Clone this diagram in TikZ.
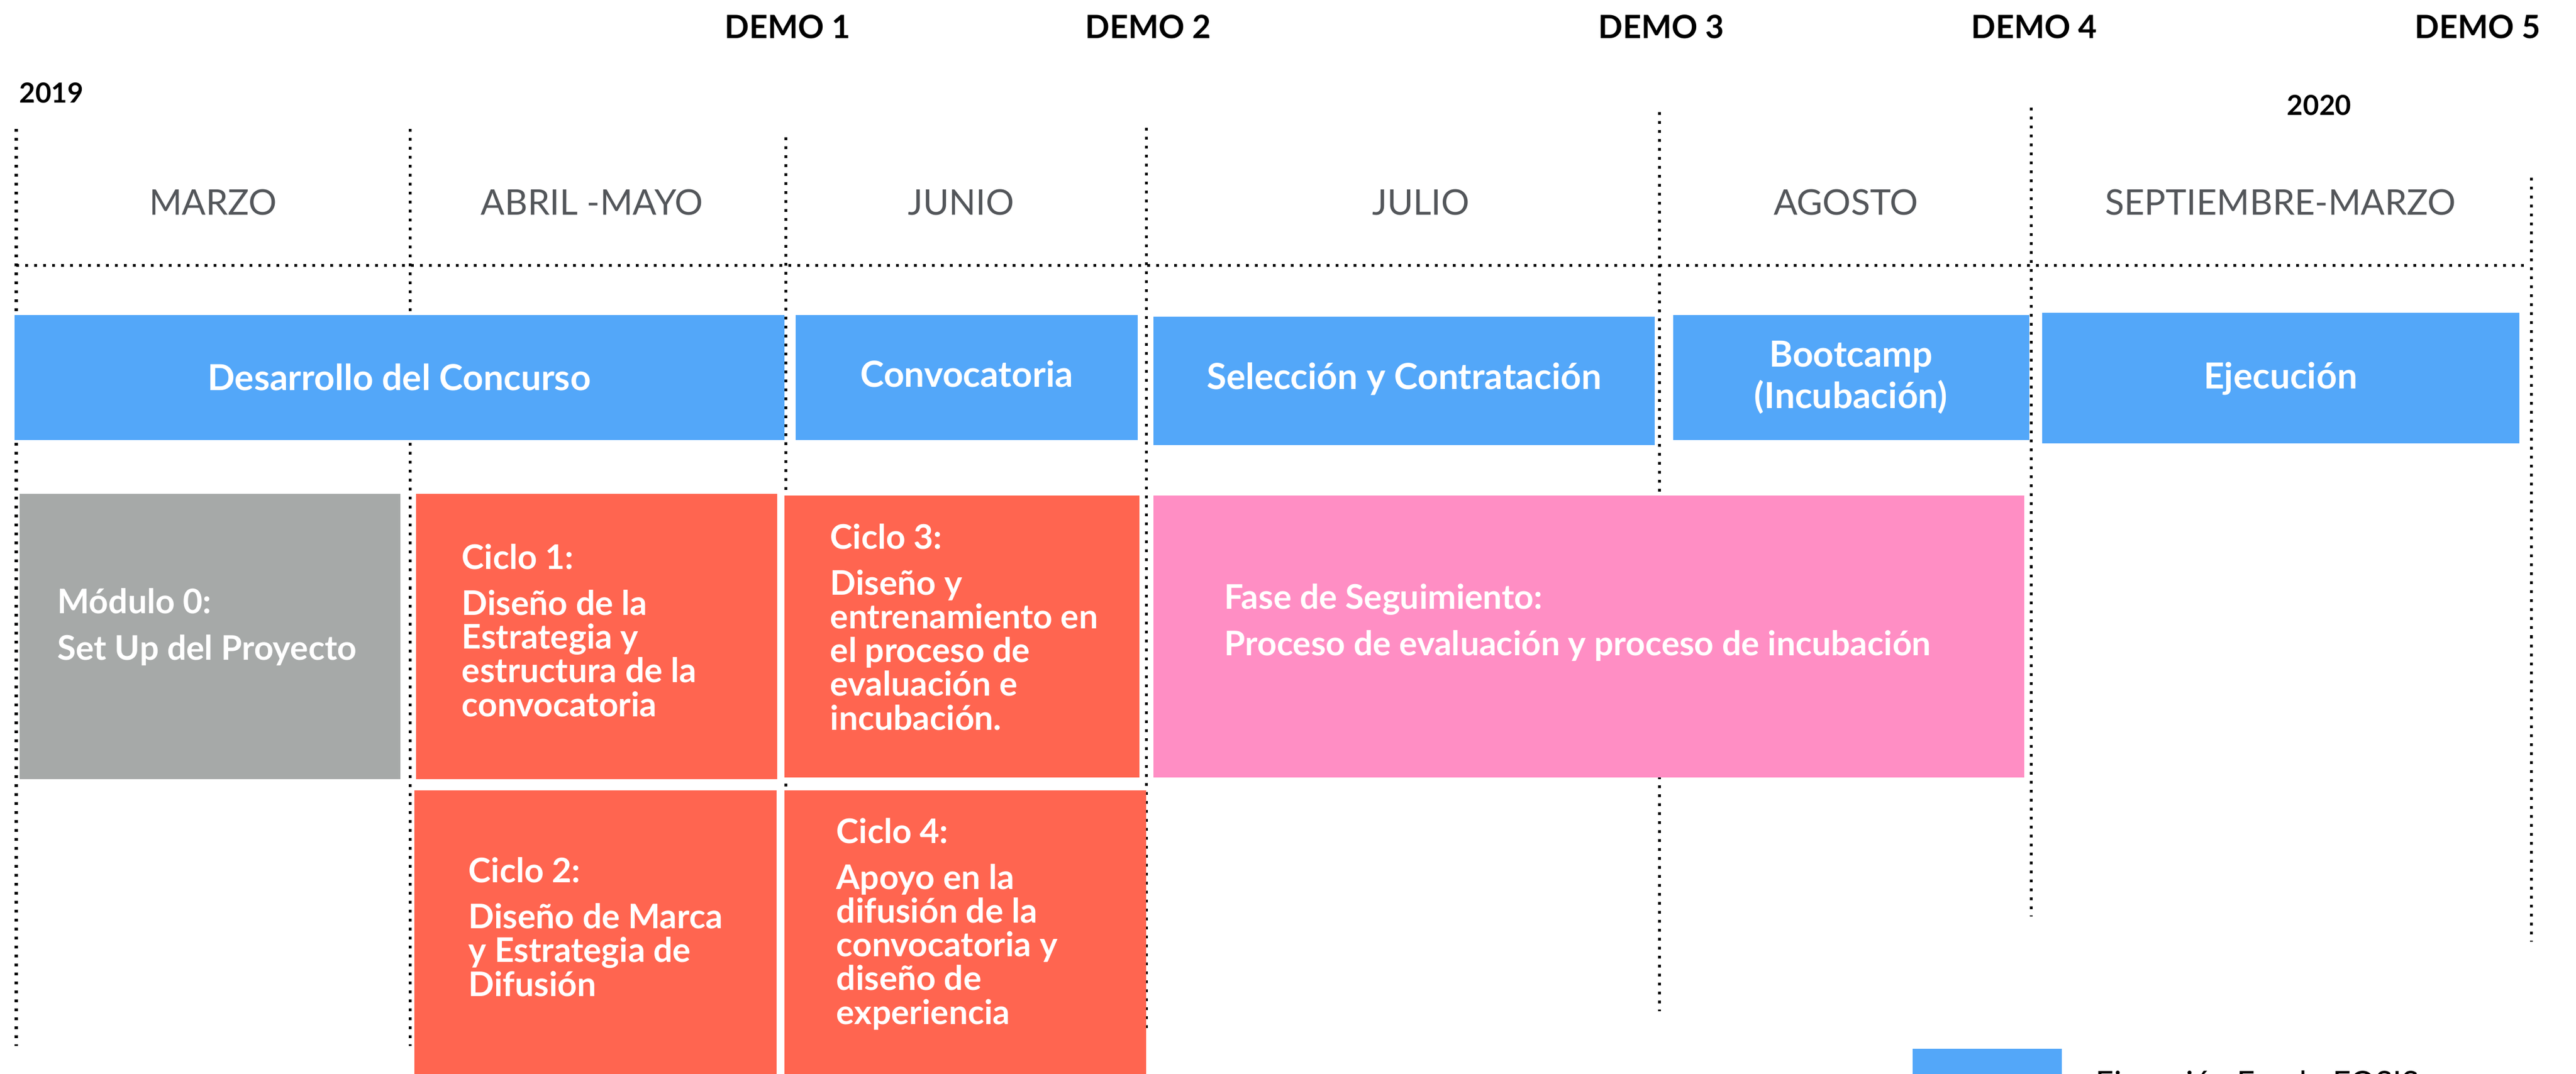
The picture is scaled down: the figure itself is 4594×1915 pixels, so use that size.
\documentclass[tikz,border=0pt]{standalone}
\usepackage{fontspec}
\setmainfont{Lato}
\usepackage{xcolor}
\usepackage{tikz}
\definecolor{barblue}{HTML}{53A7F9}
\definecolor{coral}{HTML}{FF6550}
\definecolor{rosa}{HTML}{FF8EC4}
\definecolor{gris}{HTML}{A6A9A8}
\definecolor{mesgris}{HTML}{53565A}
\tikzset{
  sep/.style={line width=0.05cm, dash pattern=on 0.05cm off 0.11cm},
  mes/.style={color=mesgris, font=\fontsize{17.9}{20}\selectfont, anchor=base},
  demo/.style={font=\bfseries\fontsize{16.3}{20}\selectfont, anchor=base},
  anio/.style={font=\bfseries\fontsize{14}{16}\selectfont, anchor=base},
  bartext/.style={color=white, font=\bfseries\fontsize{18.2}{21}\selectfont, align=center},
  cuerpo/.style={color=white, font=\bfseries\fontsize{17.2}{17.07}\selectfont, align=left, anchor=base west, inner sep=0pt},
  leyenda/.style={font=\fontsize{16}{18}\selectfont, anchor=base west, inner sep=0pt}
}

\begin{document}
\begin{tikzpicture}[x=0.01cm,y=-0.01cm]
\useasboundingbox (0,0) rectangle (4594,1915);
\clip (0,0) rectangle (4594,1915);
% separadores
\draw [sep] (29,473) -- (4505,473);
\draw [sep] (29,230) -- (29,1866);
\draw [sep] (731,230) -- (731,1866);
\draw [sep] (1401,245) -- (1401,1866);
\draw [sep] (2044,228) -- (2044,1835);
\draw [sep] (2959,200) -- (2959,1804);
\draw [sep] (3622,192) -- (3622,1635);
\draw [sep] (4514,317) -- (4514,1680);
% fases
\fill [barblue] (26,562) rectangle (1399,785);
\fill [barblue] (1419,562) rectangle (2029,785);
\fill [barblue] (2057,565) rectangle (2951,794);
\fill [barblue] (2984,562) rectangle (3619,785);
\fill [barblue] (3642,558) rectangle (4493,791);
% modulos y ciclos
\fill [gris] (35,881) rectangle (714,1390);
\fill [coral] (742,881) rectangle (1386,1390);
\fill [coral] (1399,884) rectangle (2032,1387);
\fill [rosa] (2057,884) rectangle (3610,1387);
\fill [coral] (739,1410) rectangle (1385,1930);
\fill [coral] (1399,1410) rectangle (2044,1930);
\fill [barblue] (3411,1871) rectangle (3677,1930);
% encabezado
\node [demo] (demo1) at (1405,68) {DEMO 1};
\node [demo] (demo2) at (2048,68) {DEMO 2};
\node [demo] (demo3) at (2963,68) {DEMO 3};
\node [demo] (demo4) at (3628,68) {DEMO 4};
\node [demo] (demo5) at (4419,68) {DEMO 5};
\node [anio] (a2019) at (92,183) {2019};
\node [anio] (a2020) at (4136,205) {2020};
\node [mes] (marzo) at (380,383) {MARZO};
\node [mes] (abrilmayo) at (1056,383) {ABRIL -MAYO};
\node [mes] (junio) at (1714,383) {JUNIO};
\node [mes] (julio) at (2534,383) {JULIO};
\node [mes] (agosto) at (3292,383) {AGOSTO};
\node [mes] (septmarzo) at (4067,383) {SEPTIEMBRE-MARZO};
% textos de las fases
\node [bartext] (desarrollo) at (712,673) {Desarrollo del Concurso};
\node [bartext] (convocatoria) at (1724,667) {Convocatoria};
\node [bartext] (seleccion) at (2504,676) {Selección y Contratación};
\node [bartext] (bootcamp) at (3301,673) {Bootcamp\\(Incubación)};
\node [bartext] (ejecucion) at (4067,676) {Ejecución};
% textos de los ciclos (anclados en la ultima linea)
\node [cuerpo] (modulo0) at (102,1177) {Módulo 0:\\[6.3pt]Set Up del Proyecto};
\node [cuerpo] (ciclo1) at (823,1278) {Ciclo 1:\\[6.3pt]Diseño de la\\Estrategia y\\estructura de la\\convocatoria};
\node [cuerpo] (ciclo3) at (1480,1302) {Ciclo 3:\\[6.3pt]Diseño y\\entrenamiento en\\el proceso de\\evaluación e\\incubación.};
\node [cuerpo] (seguimiento) at (2183,1169) {Fase de Seguimiento:\\[6.3pt]Proceso de evaluación y proceso de incubación};
\node [cuerpo] (ciclo2) at (835,1777) {Ciclo 2:\\[6.3pt]Diseño de Marca\\y Estrategia de\\Difusión};
\node [cuerpo] (ciclo4) at (1491,1827) {Ciclo 4:\\[6.3pt]Apoyo en la\\difusión de la\\convocatoria y\\diseño de\\experiencia};
\node [leyenda] (leyendatxt) at (3737,1951) {Ejecución Fondo FOSIS};
\end{tikzpicture}
\end{document}
